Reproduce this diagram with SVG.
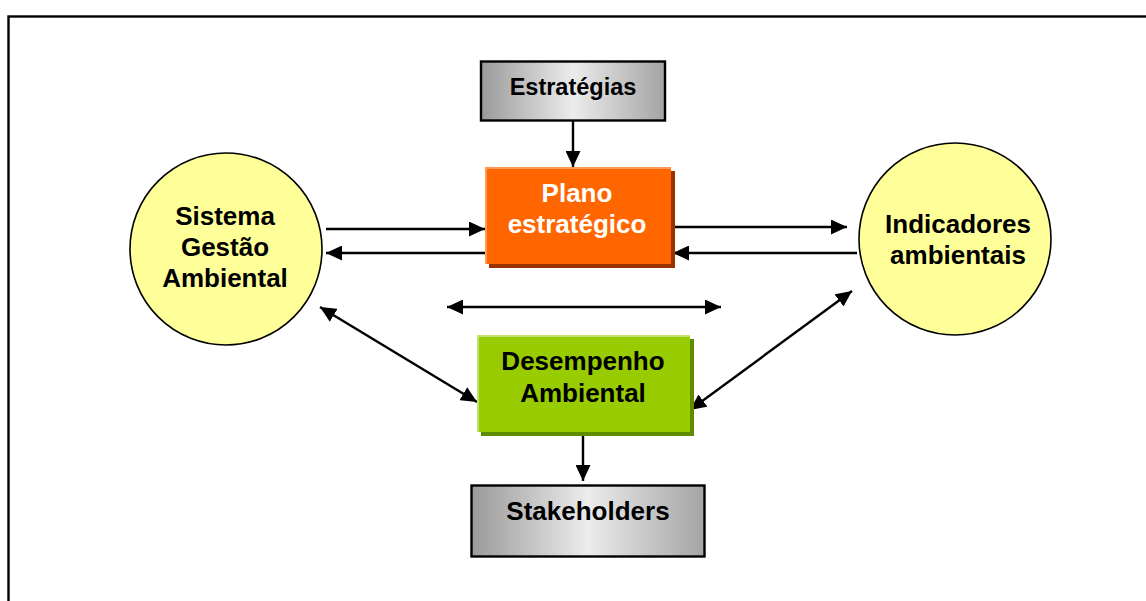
<svg xmlns="http://www.w3.org/2000/svg" width="1146" height="601" viewBox="0 0 1146 601">
  <style>
    .lbl { font-family: "Liberation Sans", Arial, sans-serif; font-weight: bold; font-size: 26px; text-anchor: middle; fill: #000; }
    .wht { fill: #fff; }
    .conn { stroke: #000; stroke-width: 2.4; fill: none; }
    .circ { fill: #FFFF99; stroke: #000; stroke-width: 1.6; }
    .grey { stroke: #000; stroke-width: 2.4; }
  </style>
  <defs>
    <linearGradient id="metal" x1="0" y1="0" x2="1" y2="0">
      <stop offset="0" stop-color="#9a9a9a"/>
      <stop offset="0.5" stop-color="#ececec"/>
      <stop offset="1" stop-color="#a4a4a4"/>
    </linearGradient>
    <marker id="head" markerUnits="userSpaceOnUse" markerWidth="17" markerHeight="15" refX="16" refY="7.5" orient="auto-start-reverse" viewBox="0 0 17 15">
      <path d="M0,0 L16,7.5 L0,15 z" fill="#000"/>
    </marker>
  </defs>

  <rect width="1146" height="601" fill="#fff"/>
  <!-- page frame -->
  <rect x="8.5" y="16.5" width="1200" height="700" fill="none" stroke="#000" stroke-width="2.4"/>

  <!-- connectors -->
  <g id="connectors">
    <line class="conn" x1="573" y1="121" x2="573" y2="167" marker-end="url(#head)"/>
    <line class="conn" x1="326" y1="229" x2="485" y2="229" marker-end="url(#head)"/>
    <line class="conn" x1="485" y1="253" x2="326" y2="253" marker-end="url(#head)"/>
    <line class="conn" x1="672" y1="227" x2="847" y2="227" marker-end="url(#head)"/>
    <line class="conn" x1="857" y1="253" x2="673" y2="253" marker-end="url(#head)"/>
    <line class="conn" x1="447" y1="307" x2="721" y2="307" marker-start="url(#head)" marker-end="url(#head)"/>
    <line class="conn" x1="320" y1="307" x2="477" y2="402" marker-start="url(#head)" marker-end="url(#head)"/>
    <line class="conn" x1="852" y1="291" x2="690" y2="410" marker-start="url(#head)" marker-end="url(#head)"/>
    <line class="conn" x1="583" y1="432" x2="583" y2="481" marker-end="url(#head)"/>
  </g>

  <g id="estrategias">
    <rect class="grey" x="481" y="61.5" width="184" height="59" fill="url(#metal)"/>
    <text class="lbl" x="573" y="95" style="font-size:23.5px">Estratégias</text>
  </g>

  <g id="plano">
    <rect x="489" y="171" width="186" height="97" fill="#993300"/>
    <rect x="485" y="167" width="186" height="97" fill="#FF9955"/>
    <rect x="487" y="169" width="184" height="95" fill="#FF6600"/>
    <text class="lbl wht" x="577" y="202">Plano</text>
    <text class="lbl wht" x="577" y="233">estratégico</text>
  </g>

  <g id="sga">
    <circle class="circ" cx="226" cy="249" r="96"/>
    <text class="lbl" x="225" y="225">Sistema</text>
    <text class="lbl" x="225" y="256">Gestão</text>
    <text class="lbl" x="225" y="287">Ambiental</text>
  </g>

  <g id="indicadores">
    <circle class="circ" cx="955" cy="239" r="96"/>
    <text class="lbl" x="958" y="233">Indicadores</text>
    <text class="lbl" x="958" y="264">ambientais</text>
  </g>

  <g id="desempenho">
    <rect x="481" y="339" width="213" height="97" fill="#5E8C00"/>
    <rect x="477" y="335" width="213" height="97" fill="#C4E070"/>
    <rect x="479" y="337" width="211" height="95" fill="#99CC00"/>
    <text class="lbl" x="583" y="370">Desempenho</text>
    <text class="lbl" x="583" y="402">Ambiental</text>
  </g>

  <g id="stakeholders">
    <rect class="grey" x="471.5" y="485.5" width="233" height="71" fill="url(#metal)"/>
    <text class="lbl" x="588" y="520">Stakeholders</text>
  </g>
</svg>
